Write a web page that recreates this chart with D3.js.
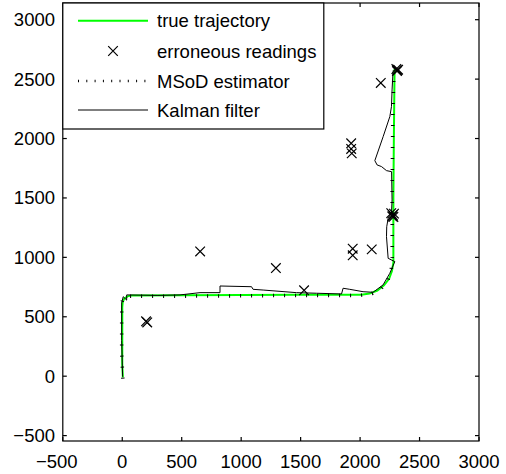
<!DOCTYPE html>
<html lang="en">
<head>
    <meta charset="UTF-8">
    <title>Trajectory estimates</title>
    <style>
        body, html {
            margin: 0;
            padding: 0;
            width: 100%;
            height: 100%;
            overflow: hidden;
            background-color: #fff;
        }
        text {
            font-family: 'Liberation Sans', Arial, sans-serif;
            font-size: 18.5px;
            fill: #000;
        }
    </style>
</head>
<body>
<div id="chart"></div>

<script src="https://d3js.org/d3.v7.min.js"></script>
<script>
    // true path
    const trueX = [5, 0, 0, 4, 18, 45, 80, 500, 1000, 1500, 2010, 2080, 2145, 2201, 2244, 2268, 2280, 2280, 2284, 2290];
    const trueY = [-10, 100, 580, 625, 655, 672, 680, 682, 684, 686, 686, 695, 721, 764, 820, 885, 955, 1500, 2000, 2585];

    // erroneous measurements
    const errX = [200, 210, 655, 1292, 1529, 1938, 1938, 2098, 1925, 1925, 1930, 2174,
                  2305, 2315, 2320, 2310, 2262, 2275, 2270, 2285, 2280];
    const errY = [462, 452, 1050, 910, 723, 1073, 1017, 1067, 1960, 1912, 1875, 2468,
                  2585, 2575, 2580, 2568, 1372, 1355, 1345, 1368, 1340];

    // MSoD estimator
    const msodX = [5, -5, -5, -3, 10, 40, 300, 800, 1200, 1600, 2000, 2100, 2180, 2235, 2262, 2270, 2270, 2275, 2285];
    const msodY = [-20, 200, 500, 620, 660, 672, 672, 675, 678, 680, 680, 695, 740, 810, 900, 1000, 1600, 2200, 2570];

    // Kalman filter
    const kalX = [3, -5, -5, 8, 37, 37, 300, 486, 654, 822, 822, 906, 1087, 1100, 1185, 1465, 1634, 1844,
                  1857, 1913, 2025, 2109, 2193, 2250, 2286, 2292, 2236, 2222, 2224, 2236, 2264, 2269,
                  2265, 2222, 2180, 2143, 2124, 2194, 2250, 2264, 2269, 2277, 2290];
    const kalY = [-4, 300, 616, 669, 640, 684, 680, 684, 703, 703, 759, 757, 753, 731, 725, 703, 698, 692,
                  740, 731, 711, 706, 768, 866, 950, 964, 992, 1174, 1258, 1329, 1371, 1483,
                  1721, 1730, 1764, 1778, 1814, 2016, 2184, 2269, 2409, 2563, 2580];

    const xTicks = [-500, 0, 500, 1000, 1500, 2000, 2500, 3000];
    const yTicks = [-500, 0, 500, 1000, 1500, 2000, 2500, 3000];

    const legendNames = ["true trajectory", "erroneous readings", "MSoD estimator", "Kalman filter"];

    const width = 506, height = 474;
    const boxL = 62.8, boxR = 479, boxT = 3, boxB = 441;

    const x = d3.scaleLinear().domain([-500, 3000]).range([boxL, boxR]);
    const y = d3.scaleLinear().domain([-500, 3000]).range([435.6, 19.7]);

    const svg = d3.select("#chart")
        .append("svg")
        .attr("width", width)
        .attr("height", height);

    const pts = (xs, ys) => xs.map((v, i) => [v, ys[i]]);
    const line = d3.line().x(d => x(d[0])).y(d => y(d[1]));

    const plot = svg.append("g");

    plot.append("path")
        .attr("d", line(pts(trueX, trueY)))
        .attr("fill", "none")
        .attr("stroke", "#00ff00")
        .attr("stroke-width", 2);

    const cross = (g, cx, cy, r) => {
        g.append("path")
            .attr("d", `M${cx - r},${cy - r}L${cx + r},${cy + r}M${cx - r},${cy + r}L${cx + r},${cy - r}`)
            .attr("stroke", "#000")
            .attr("stroke-width", 1.2)
            .attr("fill", "none");
    };

    pts(errX, errY).forEach(d => cross(plot, x(d[0]), y(d[1]), 4.8));

    plot.append("path")
        .attr("d", line(pts(msodX, msodY)))
        .attr("fill", "none")
        .attr("stroke", "#000")
        .attr("stroke-width", 3.5)
        .attr("stroke-dasharray", "1,10");

    plot.append("path")
        .attr("d", line(pts(kalX, kalY)))
        .attr("fill", "none")
        .attr("stroke", "#000")
        .attr("stroke-width", 1);

    // axes box with inward ticks
    const axes = svg.append("g").attr("stroke", "#000").attr("stroke-width", 1.2);
    axes.append("rect")
        .attr("x", boxL).attr("y", boxT)
        .attr("width", boxR - boxL).attr("height", boxB - boxT)
        .attr("fill", "none");

    xTicks.forEach(t => {
        axes.append("line").attr("x1", x(t)).attr("x2", x(t)).attr("y1", boxB).attr("y2", boxB - 4);
        axes.append("line").attr("x1", x(t)).attr("x2", x(t)).attr("y1", boxT).attr("y2", boxT + 4);
    });
    yTicks.forEach(t => {
        axes.append("line").attr("x1", boxL).attr("x2", boxL + 4).attr("y1", y(t)).attr("y2", y(t));
        axes.append("line").attr("x1", boxR).attr("x2", boxR - 4).attr("y1", y(t)).attr("y2", y(t));
    });

    const fmt = v => (v < 0 ? "\u2212" + Math.abs(v) : String(v));

    svg.append("g").selectAll("text")
        .data(xTicks)
        .enter().append("text")
        .attr("x", d => x(d) - (d < 0 ? 6 : 0))
        .attr("y", 468)
        .attr("text-anchor", "middle")
        .text(fmt);

    svg.append("g").selectAll("text")
        .data(yTicks)
        .enter().append("text")
        .attr("x", 55)
        .attr("y", d => y(d) + 6.5)
        .attr("text-anchor", "end")
        .text(fmt);

    // legend
    const legend = svg.append("g");
    legend.append("rect")
        .attr("x", boxL).attr("y", boxT)
        .attr("width", 261).attr("height", 126)
        .attr("fill", "#fff")
        .attr("stroke", "#000")
        .attr("stroke-width", 1.2);

    const rowY = [20.7, 51, 81, 110];
    legendNames.forEach((name, i) => {
        const ly = rowY[i];
        if (i === 0) {
            legend.append("line").attr("x1", 78).attr("x2", 148).attr("y1", ly).attr("y2", ly)
                .attr("stroke", "#00ff00").attr("stroke-width", 2);
        } else if (i === 1) {
            cross(legend, 113, ly, 4.8);
        } else if (i === 2) {
            legend.append("line").attr("x1", 78).attr("x2", 148).attr("y1", ly).attr("y2", ly)
                .attr("stroke", "#000").attr("stroke-width", 2.5).attr("stroke-dasharray", "1,7.3");
        } else {
            legend.append("line").attr("x1", 78).attr("x2", 148).attr("y1", ly).attr("y2", ly)
                .attr("stroke", "#000").attr("stroke-width", 1);
        }
        legend.append("text")
            .attr("x", 157)
            .attr("y", ly + 6.5)
            .text(name);
    });
</script>
</body>
</html>
